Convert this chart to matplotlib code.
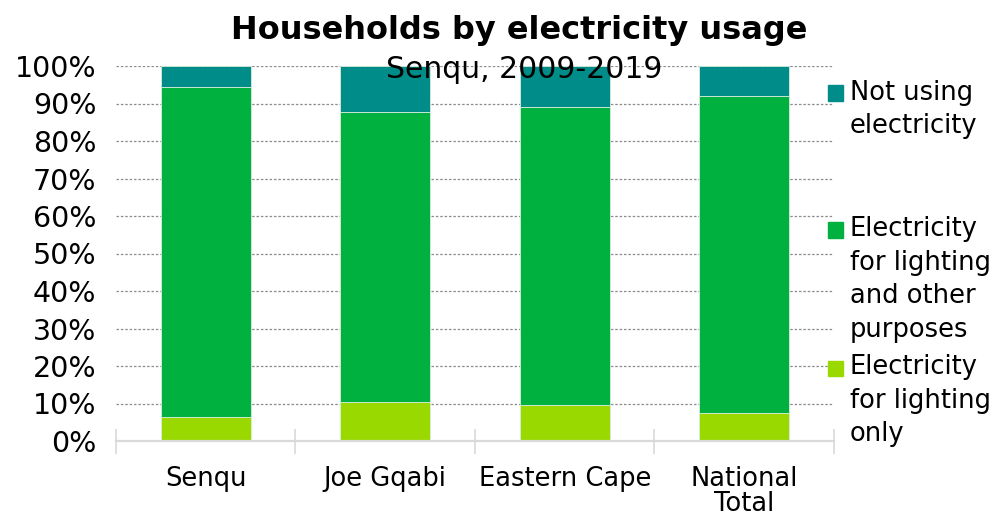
import matplotlib
matplotlib.use("Agg")
import matplotlib.pyplot as plt
from matplotlib.patches import Rectangle
import numpy as np

plt.rcParams['font.family'] = ['DejaVu Sans']

categories = ["Senqu", "Joe Gqabi", "Eastern Cape", "National\nTotal"]
lighting_only = [6.3, 10.3, 9.5, 7.6]
lighting_other = [88.0, 77.4, 79.6, 84.3]
not_using = [5.7, 12.3, 10.9, 8.1]

series_labels = ["Electricity\nfor lighting\nonly",
                 "Electricity\nfor lighting\nand other\npurposes",
                 "Not using\nelectricity"]
colors = ["#99D900", "#00B140", "#008C88"]
yticks = list(range(0, 101, 10))

W, H = 995, 518
fig = plt.figure(figsize=(W / 100, H / 100), dpi=100)
ax = fig.add_axes([116 / W, 1 - 441 / H, (834 - 116) / W, (441 - 66) / H])

x = np.arange(len(categories))
bottom = np.zeros(len(categories))
for vals, col in zip([lighting_only, lighting_other, not_using], colors):
    ax.bar(x, vals, width=0.5, bottom=bottom, color=col,
           edgecolor="#d8eedc", linewidth=0.6, zorder=3)
    bottom += np.array(vals)

ax.set_xlim(-0.5, len(categories) - 0.5)
ax.set_ylim(0, 100)

ax.set_yticks(yticks)
ax.set_yticklabels([f"{v}%" for v in yticks], fontsize=20.5)
ax.tick_params(axis="y", length=0, pad=14)
for v in yticks[1:]:
    ax.axhline(v, color="#8c8c8c", linestyle=(0, (2, 1.5)), linewidth=0.9, zorder=1)

ax.set_xticks(x)
ax.set_xticklabels(categories, fontsize=18.5, linespacing=0.95, va="top")
ax.tick_params(axis="x", which="major", length=0, pad=18)
ax.set_xticks(np.arange(-0.5, len(categories), 1.0), minor=True)
ax.tick_params(axis="x", which="minor", direction="inout", length=18,
               width=1.2, color="#d9d9d9")

for s in ["top", "right", "left"]:
    ax.spines[s].set_visible(False)
ax.spines["bottom"].set_color("#d9d9d9")
ax.spines["bottom"].set_linewidth(1.6)
ax.spines["bottom"].set_zorder(4)

fig.text(519 / W, 1 - 30 / H, "Households by electricity usage",
         ha="center", va="center", fontsize=23, fontweight="bold")
fig.text(524 / W, 1 - 70 / H, "Senqu, 2009-2019",
         ha="center", va="center", fontsize=21.5)

# legend drawn as squares and wrapped labels on the right
legend_rows = [(2, 93), (1, 230), (0, 368)]
for idx, yc in legend_rows:
    fig.patches.append(Rectangle((828 / W, 1 - (yc + 7.5) / H), 15 / W, 15 / H,
                                 transform=fig.transFigure, color=colors[idx]))
    fig.text(850 / W, 1 - (yc - 13.5) / H, series_labels[idx], ha="left",
             va="top", fontsize=18.5, linespacing=1.37)

fig.savefig("out.png", dpi=100)
